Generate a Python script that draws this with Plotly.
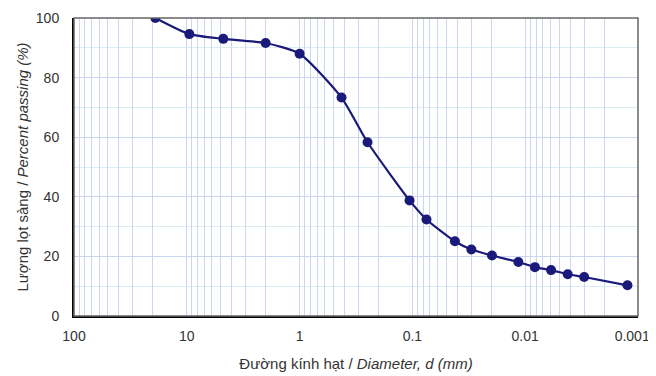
import plotly.graph_objects as go

diameter_mm = [19.0, 9.5, 4.75, 2.0, 1.0, 0.425, 0.25, 0.106, 0.075, 0.042, 0.030,
               0.0197, 0.0115, 0.0082, 0.0059, 0.0042, 0.0030, 0.00124]
percent_passing = [100.0, 94.6, 93.0, 91.6, 88.0, 73.3, 58.3, 38.8, 32.4, 25.1, 22.3,
                   20.3, 18.1, 16.4, 15.4, 14.0, 13.1, 10.3]

decade_vals = [100, 10, 1, 0.1, 0.01, 0.001]
# last label padded with non-breaking spaces so it stays inside the page edge
decade_text = ["100", "10", "1", "0.1", "0.01", "0.001\u00a0\u00a0\u00a0"]

# all gridline positions (1..9 per decade)
grid_vals = []
grid_text = []
for d in [10, 1, 0.1, 0.01, 0.001]:
    for m in range(1, 10):
        v = round(d * m, 6)
        grid_vals.append(v)
        grid_text.append(decade_text[decade_vals.index(v)] if v in decade_vals else "")
grid_vals.append(100)
grid_text.append("100")

navy = "#1a1a7a"
font_family = "Liberation Sans, Arial, sans-serif"

fig = go.Figure()
fig.add_trace(go.Scatter(
    x=diameter_mm, y=percent_passing, mode="lines+markers",
    line=dict(color=navy, width=2.2, shape="spline", smoothing=0.6),
    marker=dict(color=navy, size=10),
    showlegend=False,
))

# page body adds an 8px margin, so the figure is 8px smaller than the window
fig.update_layout(
    width=648, height=368,
    margin=dict(l=66, r=18, t=10, b=60, autoexpand=False),
    paper_bgcolor="white", plot_bgcolor="white",
    font=dict(family=font_family, size=14, color="#333333"),
    xaxis=dict(
        type="log", range=[2, -3], automargin=False,
        tickmode="array", tickvals=grid_vals, ticktext=grid_text,
        showgrid=True, gridcolor="#cdd6f0", gridwidth=1,
        showline=True, linecolor="black", linewidth=2, mirror=False,
        ticks="", zeroline=False, ticklabelstandoff=6,
        ticklabeloverflow="allow",
        title=dict(text="Đường kính hạt / <i>Diameter, d (mm)</i>",
                   font=dict(size=15, color="#333333"), standoff=16),
        tickfont=dict(size=14),
    ),
    yaxis=dict(
        range=[0, 100], tickmode="linear", dtick=20, tick0=0, automargin=False,
        showgrid=True, gridcolor="#cdd6f0", gridwidth=1,
        minor=dict(dtick=10, showgrid=True, gridcolor="#dcecf2", gridwidth=1),
        showline=True, linecolor="black", linewidth=2,
        ticks="", zeroline=False, ticklabelstandoff=10,
        title=dict(text="Lượng lọt sàng / <i>Percent passing (%)</i>",
                   font=dict(size=15, color="#333333"), standoff=4),
        tickfont=dict(size=14),
    ),
    shapes=[dict(type="rect", xref="paper", yref="paper", x0=0, x1=1, y0=0, y1=1,
                 line=dict(color="#666666", width=1.5), fillcolor="rgba(0,0,0,0)",
                 layer="above")],
)
fig.update_xaxes(layer="above traces")
fig.update_yaxes(layer="above traces")

fig.write_html("out.html")
